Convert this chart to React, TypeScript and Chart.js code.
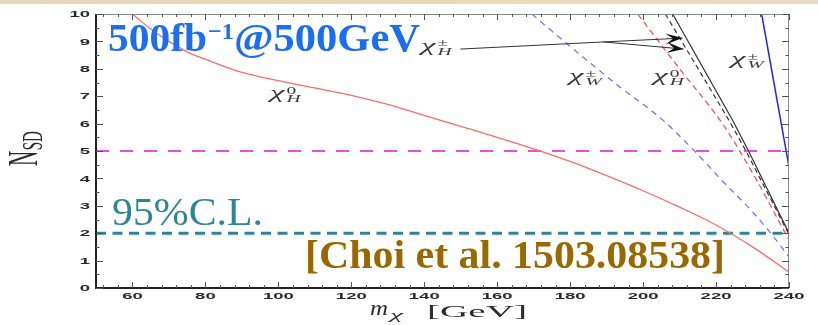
import React, { useEffect, useRef } from "react";
import { Chart, registerables } from "chart.js";

Chart.register(...registerables);

// ---------------- data ----------------
const massMin = 50;
const massMax = 240;
const nsdMin = 0;
const nsdMax = 10;

// chi_H^0 (solid red)
const redSolidMass = [60, 65, 70, 75, 80, 90, 100, 110, 120, 130, 140, 150, 160, 170, 180, 190, 200, 210, 220, 230, 240];
const redSolidNsd = [10.0, 9.45, 9.0, 8.62, 8.35, 7.87, 7.57, 7.3, 7.03, 6.7, 6.3, 5.9, 5.5, 5.08, 4.62, 4.1, 3.55, 2.95, 2.3, 1.5, 0.58];
// chi_H^0 (dashed red)
const redDashedMass = [198.5, 210, 222, 230, 240];
const redDashedNsd = [10, 8.0, 5.95, 4.2, 1.75];
// chi_H^+- (solid black)
const blackSolidMass = [208.1, 224.5, 228.9, 240];
const blackSolidNsd = [10, 6.13, 5.0, 2.0];
// chi_H^+- (dashed black)
const blackDashedMass = [206.1, 223.5, 228.2, 240];
const blackDashedNsd = [10, 6.13, 5.0, 1.95];
// chi_W^+- (dashed blue)
const blueDashedMass = [169.5, 174.6, 193, 204.8, 213.8, 222, 229.5, 235, 240];
const blueDashedNsd = [10, 9.42, 7.4, 6.2, 5.04, 3.87, 2.85, 2.0, 1.13];
// chi_W^+- (solid blue)
const blueSolidMass = [232.5, 240];
const blueSolidNsd = [10, 4.42];

// reference levels
const discoveryLevel = 5;
const exclusionLevel = 2;

// tick labels
const xTickLabels = [60, 80, 100, 120, 140, 160, 180, 200, 220, 240];
const yTickLabels = [0, 1, 2, 3, 4, 5, 6, 7, 8, 9, 10];

// curve labels (text, anchored in data coordinates)
const curveLabelSub = ["H", "H", "W", "H", "W"];
const curveLabelSup = ["0", "±", "±", "0", "±"];
const curveLabelMass = [101.9, 143.3, 184.2, 207, 228.6];
const curveLabelNsd = [7.04, 8.76, 7.66, 7.66, 8.28];

// arrow from chi_H^+- label (data coordinates)
const arrowTailMass = [149.9, 189.1];
const arrowTailNsd = [8.72, 8.98];
const arrowTipMass = [210.8, 211.1];
const arrowTipNsd = [9.12, 8.72];

// ---------------- helpers ----------------
const pts = (xs: number[], ys: number[]) => xs.map((x, i) => ({ x, y: ys[i] }));
const STRETCH = 1.95; // the original plot is horizontally stretched

function fitText(ctx: CanvasRenderingContext2D, text: string, font: string, x: number, y: number, w: number, color: string) {
  ctx.save();
  ctx.font = font;
  const nat = ctx.measureText(text).width;
  ctx.translate(x, y);
  ctx.scale(w / nat, 1);
  ctx.fillStyle = color;
  ctx.textAlign = "left";
  ctx.textBaseline = "alphabetic";
  ctx.fillText(text, 0, 0);
  ctx.restore();
}

function drawChi(ctx: CanvasRenderingContext2D, cx: number, cy: number, sub: string, sup: string) {
  ctx.save();
  ctx.fillStyle = "#3a3a3a";
  ctx.textAlign = "left";
  ctx.textBaseline = "alphabetic";
  const chiFont = 'italic 17px "Liberation Serif"';
  const subFont = 'italic 10px "Liberation Serif"';
  const supFont = '10px "Liberation Serif"';
  ctx.font = chiFont;
  const wChi = ctx.measureText("χ").width;
  ctx.font = subFont;
  const wSub = ctx.measureText(sub).width;
  ctx.font = supFont;
  const wSup = ctx.measureText(sup).width;
  const total = wChi + 1 + Math.max(wSub, wSup);
  ctx.translate(cx, cy);
  ctx.scale(STRETCH, 1);
  ctx.translate(-total / 2, 0);
  ctx.font = chiFont;
  ctx.fillText("χ", 0, 3);
  ctx.font = supFont;
  ctx.fillText(sup, wChi + 1, -1.5);
  ctx.font = subFont;
  ctx.fillText(sub, wChi + 1, 7);
  ctx.restore();
}

function arrowHead(ctx: CanvasRenderingContext2D, fx: number, fy: number, tx: number, ty: number) {
  const ang = Math.atan2(ty - fy, tx - fx);
  const len = 17;
  const half = 5.5;
  ctx.save();
  ctx.translate(tx, ty);
  ctx.rotate(ang);
  ctx.beginPath();
  ctx.moveTo(0, 0);
  ctx.lineTo(-len, -half);
  ctx.lineTo(-len * 0.55, 0);
  ctx.lineTo(-len, half);
  ctx.closePath();
  ctx.fill();
  ctx.restore();
}

const backgroundPlugin = {
  id: "bg",
  beforeDraw(chart: any) {
    const { ctx, width } = chart;
    ctx.save();
    ctx.fillStyle = "#ffffff";
    ctx.fillRect(0, 0, width, chart.height);
    const g = ctx.createLinearGradient(0, 0, width, 0);
    g.addColorStop(0, "#e6d9bd");
    g.addColorStop(0.5, "#ead9b2");
    g.addColorStop(1, "#e9dcc4");
    ctx.fillStyle = g;
    ctx.fillRect(0, 0, width, 4);
    ctx.restore();
  },
};

const framePlugin = {
  id: "frame",
  afterDatasetsDraw(chart: any) {
    const { ctx, chartArea: a, scales } = chart;
    const xs = scales.x;
    const ys = scales.y;
    ctx.save();
    // frame
    ctx.strokeStyle = "#8c8c8c";
    ctx.lineWidth = 1;
    ctx.beginPath();
    ctx.moveTo(a.left, a.top + 0.5);
    ctx.lineTo(a.right, a.top + 0.5);
    ctx.moveTo(a.right - 0.5, a.top);
    ctx.lineTo(a.right - 0.5, a.bottom);
    ctx.stroke();
    ctx.strokeStyle = "#222";
    ctx.lineWidth = 2;
    ctx.beginPath();
    ctx.moveTo(a.left, a.top);
    ctx.lineTo(a.left, a.bottom + 1);
    ctx.moveTo(a.left, a.bottom);
    ctx.lineTo(a.right, a.bottom);
    ctx.stroke();
    // ticks (inside)
    ctx.strokeStyle = "#555";
    ctx.lineWidth = 1;
    ctx.beginPath();
    for (let v = 52; v <= massMax; v += 4) {
      const major = v % 20 === 0;
      const px = Math.round(xs.getPixelForValue(v)) + 0.5;
      const len = major ? 6 : 3;
      ctx.moveTo(px, a.bottom);
      ctx.lineTo(px, a.bottom - len);
      ctx.moveTo(px, a.top);
      ctx.lineTo(px, a.top + len);
    }
    for (let v = nsdMin; v <= nsdMax; v += 0.5) {
      const major = Number.isInteger(v);
      const py = Math.round(ys.getPixelForValue(v)) + 0.5;
      const len = major ? 7 : 3.5;
      ctx.moveTo(a.left, py);
      ctx.lineTo(a.left + len, py);
      ctx.moveTo(a.right, py);
      ctx.lineTo(a.right - len, py);
    }
    ctx.stroke();
    // tick labels
    ctx.fillStyle = "#2a2a2a";
    ctx.font = 'bold 9.5px "Liberation Sans"';
    ctx.textBaseline = "middle";
    ctx.textAlign = "right";
    yTickLabels.forEach((v) => {
      ctx.save();
      ctx.translate(a.left - 6, ys.getPixelForValue(v) + 0.5);
      ctx.scale(STRETCH, 1);
      ctx.fillText(String(v), 0, 0);
      ctx.restore();
    });
    ctx.textAlign = "center";
    xTickLabels.forEach((v) => {
      ctx.save();
      ctx.translate(xs.getPixelForValue(v), a.bottom + 8);
      ctx.scale(STRETCH, 1);
      ctx.fillText(String(v), 0, 0);
      ctx.restore();
    });
    // x title: m_chi [GeV]
    fitText(ctx, "m", 'italic 21px "Liberation Serif"', 370, 315, 18, "#2a2a2a");
    fitText(ctx, "χ", 'italic 13px "Liberation Serif"', 390, 319, 13, "#2a2a2a");
    fitText(ctx, "[GeV]", '16px "Liberation Serif"', 427, 317, 100, "#2a2a2a");
    // y title: N_SD (rotated)
    ctx.save();
    ctx.fillStyle = "#2a2a2a";
    ctx.translate(37, 166);
    ctx.rotate(-Math.PI / 2);
    ctx.scale(1, 2.0);
    ctx.textAlign = "left";
    ctx.textBaseline = "alphabetic";
    ctx.font = '21px "Liberation Serif"';
    const wN = ctx.measureText("N").width;
    ctx.fillText("N", 0, 0);
    ctx.font = '15px "Liberation Serif"';
    ctx.fillText("SD", wN + 0.5, 2.5);
    ctx.restore();
    // curve labels
    curveLabelMass.forEach((m, i) => {
      drawChi(ctx, xs.getPixelForValue(m), ys.getPixelForValue(curveLabelNsd[i]), curveLabelSub[i], curveLabelSup[i]);
    });
    // arrows
    const tx0 = xs.getPixelForValue(arrowTailMass[0]);
    const ty0 = ys.getPixelForValue(arrowTailNsd[0]);
    const tx1 = xs.getPixelForValue(arrowTailMass[1]);
    const ty1 = ys.getPixelForValue(arrowTailNsd[1]);
    ctx.strokeStyle = "#333";
    ctx.fillStyle = "#111";
    ctx.lineWidth = 1;
    ctx.beginPath();
    ctx.moveTo(tx0, ty0);
    ctx.lineTo(tx1, ty1);
    arrowTipMass.forEach((m, i) => {
      ctx.moveTo(tx1, ty1);
      ctx.lineTo(xs.getPixelForValue(m), ys.getPixelForValue(arrowTipNsd[i]));
    });
    ctx.stroke();
    arrowTipMass.forEach((m, i) => {
      arrowHead(ctx, tx1, ty1, xs.getPixelForValue(m), ys.getPixelForValue(arrowTipNsd[i]));
    });
    ctx.restore();
  },
  afterDraw(chart: any) {
    const { ctx } = chart;
    // slide annotations
    fitText(ctx, "500fb", 'bold 40px "Liberation Serif"', 108, 51, 99, "#1b6ef0");
    fitText(ctx, "−1", 'bold 24px "Liberation Serif"', 208, 39, 26, "#1b6ef0");
    fitText(ctx, "@500GeV", 'bold 40px "Liberation Serif"', 234, 51, 186, "#1b6ef0");
    fitText(ctx, "95%C.L.", '41px "Liberation Serif"', 112, 225, 151, "#2d8698");
    fitText(ctx, "[Choi et al. 1503.08538]", 'bold 39px "Liberation Serif"', 305, 268, 420, "#9a6800");
  },
};

export default function App() {
  const ref = useRef<HTMLCanvasElement | null>(null);
  useEffect(() => {
    if (!ref.current) return;
    const line = (data: any[], color: string, width: number, dash: number[] = [], mono = false) => ({
      data,
      borderColor: color,
      borderWidth: width,
      borderDash: dash,
      pointRadius: 0,
      fill: false,
      tension: 0,
      cubicInterpolationMode: mono ? "monotone" : "default",
    });
    const chart = new Chart(ref.current, {
      type: "line",
      data: {
        datasets: [
          line(pts(redSolidMass, redSolidNsd), "#ff6a6a", 1.3, [], true),
          line(pts([massMin, massMax], [discoveryLevel, discoveryLevel]), "#dd10dd", 1.4, [13, 11]),
          line(pts([massMin, massMax], [exclusionLevel, exclusionLevel]), "#2d8698", 3, [10, 6.5]),
          line(pts(blueDashedMass, blueDashedNsd), "#6a6aff", 1.2, [6, 5], true),
          line(pts(redDashedMass, redDashedNsd), "#ff4848", 1.2, [6, 4], true),
          line(pts(blackDashedMass, blackDashedNsd), "#333333", 1.2, [5, 3.5]),
          line(pts(blackSolidMass, blackSolidNsd), "#333333", 1.2),
          line(pts(blueSolidMass, blueSolidNsd), "#2222ff", 1.5),
        ] as any,
      },
      options: {
        responsive: false,
        animation: false,
        layout: { padding: { left: 96, right: 29, top: 14, bottom: 37 } },
        scales: {
          x: { type: "linear", min: massMin, max: massMax, display: false },
          y: { type: "linear", min: nsdMin, max: nsdMax, display: false },
        },
        plugins: { legend: { display: false }, tooltip: { enabled: false } },
        elements: { point: { radius: 0 } },
      },
      plugins: [backgroundPlugin, framePlugin],
    });
    return () => chart.destroy();
  }, []);
  return (
    <div style={{ position: "fixed", left: 0, top: 0, width: 818, height: 325, background: "#fff" }}>
      <canvas ref={ref} width={818} height={325} style={{ display: "block", width: 818, height: 325 }} />
    </div>
  );
}
